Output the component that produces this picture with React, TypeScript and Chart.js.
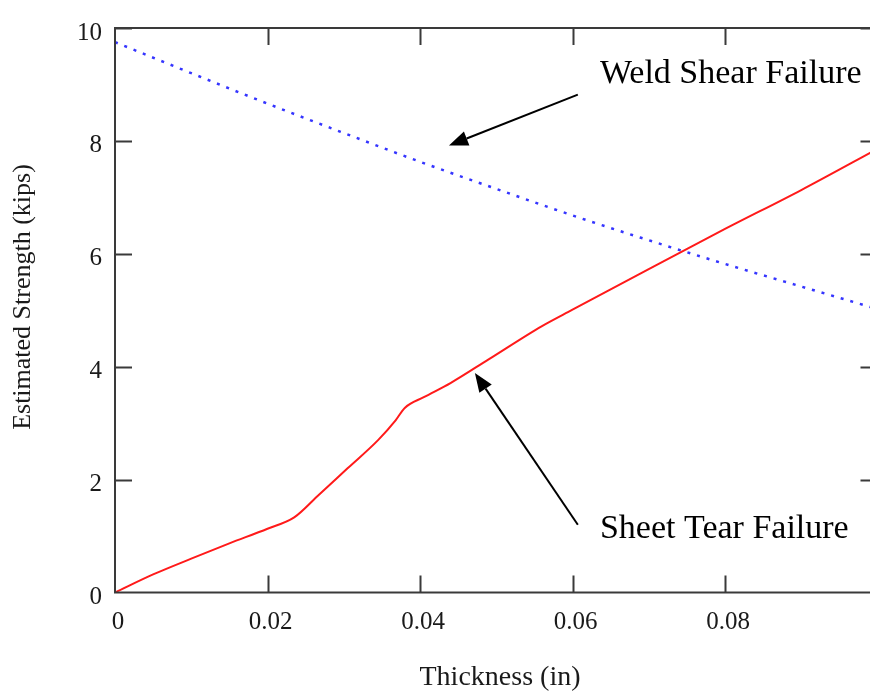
import React, { useEffect, useRef } from 'react';
import { Chart, registerables } from 'chart.js';

Chart.register(...registerables);

// Sheet tear failure (red solid)
const tearThickness = [0, 0.005, 0.01, 0.015, 0.02, 0.0235, 0.0265, 0.0305, 0.0345, 0.0368, 0.038, 0.0405, 0.044, 0.049, 0.056, 0.06, 0.07, 0.08, 0.09, 0.1];
const tearStrength = [0, 0.32, 0.6, 0.87, 1.13, 1.33, 1.7, 2.2, 2.7, 3.05, 3.27, 3.46, 3.71, 4.13, 4.72, 5.01, 5.73, 6.44, 7.13, 7.86];

// Weld shear failure (blue dotted)
const shearThickness = [0, 0.01, 0.02, 0.03, 0.04, 0.05, 0.06, 0.07, 0.08, 0.09, 0.1];
const shearStrength = [9.75, 9.2, 8.66, 8.14, 7.63, 7.15, 6.68, 6.24, 5.82, 5.42, 5.02];

const xTickValues = [0, 0.02, 0.04, 0.06, 0.08];
const yTickValues = [0, 2, 4, 6, 8, 10];

const xTitle = 'Thickness (in)';
const yTitle = 'Estimated Strength (kips)';

const annotationLabels = ['Weld Shear Failure', 'Sheet Tear Failure'];
// [textX, textBaselineY, tailX, tailY, tipX, tipY] in data units
const annotationAnchors = [
  [0.0636, 9.03, 0.0607, 8.82, 0.0438, 7.92],
  [0.0636, 0.97, 0.0607, 1.2, 0.0472, 3.89],
];

const SERIF = '"Liberation Serif", "Times New Roman", serif';

export default function App() {
  const ref = useRef<HTMLCanvasElement | null>(null);

  useEffect(() => {
    if (!ref.current) return;

    const framePlugin = {
      id: 'frame',
      afterDraw(chart: any) {
        const { ctx, chartArea: a, scales } = chart;
        const x = scales.x;
        const y = scales.y;
        ctx.save();
        ctx.strokeStyle = '#3a3a3a';
        ctx.lineWidth = 2;
        ctx.strokeRect(a.left, a.top, a.right - a.left, a.bottom - a.top);
        const TL = 17;
        ctx.beginPath();
        xTickValues.forEach((v) => {
          if (v === 0) return;
          const px = Math.round(x.getPixelForValue(v)) + 0.5;
          ctx.moveTo(px, a.bottom);
          ctx.lineTo(px, a.bottom - TL);
          ctx.moveTo(px, a.top);
          ctx.lineTo(px, a.top + TL);
        });
        yTickValues.forEach((v) => {
          if (v === 0) return;
          const py = Math.round(y.getPixelForValue(v)) + 0.5;
          ctx.moveTo(a.left, py);
          ctx.lineTo(a.left + TL, py);
          ctx.moveTo(a.right, py);
          ctx.lineTo(a.right - TL, py);
        });
        ctx.stroke();

        // axis titles
        ctx.fillStyle = '#1a1a1a';
        ctx.font = `28px ${SERIF}`;
        ctx.textAlign = 'center';
        ctx.textBaseline = 'middle';
        ctx.fillText(xTitle, 500, 678);
        ctx.save();
        ctx.translate(23, 297);
        ctx.rotate(-Math.PI / 2);
        ctx.font = `26px ${SERIF}`;
        ctx.fillText(yTitle, 0, 0);
        ctx.restore();

        // annotations
        ctx.fillStyle = '#000';
        ctx.strokeStyle = '#000';
        ctx.font = `34px ${SERIF}`;
        ctx.textAlign = 'left';
        ctx.textBaseline = 'alphabetic';
        annotationLabels.forEach((label, i) => {
          const [tx, ty, ax, ay, bx, by] = annotationAnchors[i];
          ctx.fillText(label, x.getPixelForValue(tx), y.getPixelForValue(ty));
          const x1 = x.getPixelForValue(ax);
          const y1 = y.getPixelForValue(ay);
          const x2 = x.getPixelForValue(bx);
          const y2 = y.getPixelForValue(by);
          const ang = Math.atan2(y2 - y1, x2 - x1);
          const HL = 19;
          const HW = 7.5;
          const bxp = x2 - HL * Math.cos(ang);
          const byp = y2 - HL * Math.sin(ang);
          ctx.lineWidth = 2;
          ctx.beginPath();
          ctx.moveTo(x1, y1);
          ctx.lineTo(bxp, byp);
          ctx.stroke();
          ctx.beginPath();
          ctx.moveTo(x2, y2);
          ctx.lineTo(bxp + HW * Math.sin(ang), byp - HW * Math.cos(ang));
          ctx.lineTo(bxp - HW * Math.sin(ang), byp + HW * Math.cos(ang));
          ctx.closePath();
          ctx.fill();
        });
        ctx.restore();
      },
    };

    const chart = new Chart(ref.current, {
      type: 'scatter',
      data: {
        datasets: [
          {
            label: 'Sheet Tear Failure',
            data: tearThickness.map((t, i) => ({ x: t, y: tearStrength[i] })),
            showLine: true,
            borderColor: '#ff1a1a',
            borderWidth: 2,
            pointRadius: 0,
            cubicInterpolationMode: 'monotone',
          },
          {
            label: 'Weld Shear Failure',
            data: shearThickness.map((t, i) => ({ x: t, y: shearStrength[i] })),
            showLine: true,
            borderColor: '#3535ff',
            borderWidth: 2.5,
            borderDash: [3, 7],
            pointRadius: 0,
            cubicInterpolationMode: 'monotone',
          },
        ],
      },
      options: {
        animation: false,
        responsive: false,
        devicePixelRatio: 1,
        layout: { padding: { top: 12.5, right: 2.5, left: 0, bottom: 0 } },
        plugins: { legend: { display: false }, tooltip: { enabled: false } },
        scales: {
          x: {
            type: 'linear',
            min: 0,
            max: 0.1,
            grid: { display: false, drawTicks: false, tickLength: 0 },
            border: { display: false },
            afterBuildTicks: (s: any) => {
              s.ticks = xTickValues.map((v) => ({ value: v }));
            },
            afterFit: (s: any) => {
              s.height = 101.5;
            },
            ticks: {
              padding: 15,
              labelOffset: 3,
              color: '#1a1a1a',
              font: { family: SERIF, size: 25 },
              callback: (v: any) => (Number(v) === 0 ? '0' : Number(v).toFixed(2)),
              maxRotation: 0,
            },
            title: { display: false, text: xTitle },
          },
          y: {
            type: 'linear',
            min: 0,
            max: 10,
            grid: { display: false, drawTicks: false, tickLength: 0 },
            border: { display: false },
            afterBuildTicks: (s: any) => {
              s.ticks = yTickValues.map((v) => ({ value: v }));
            },
            afterFit: (s: any) => {
              s.width = 115;
            },
            ticks: {
              padding: 13,
              labelOffset: 5,
              color: '#1a1a1a',
              font: { family: SERIF, size: 25 },
              callback: (v: any) => String(v),
            },
            title: { display: false, text: yTitle },
          },
        },
      },
      plugins: [framePlugin],
    });

    return () => chart.destroy();
  }, []);

  return (
    <div
      style={{
        position: 'fixed',
        left: 0,
        top: 0,
        width: 870,
        height: 694,
        overflow: 'hidden',
        background: '#fff',
      }}
    >
      <canvas ref={ref} width={880} height={694} style={{ display: 'block' }} />
    </div>
  );
}
